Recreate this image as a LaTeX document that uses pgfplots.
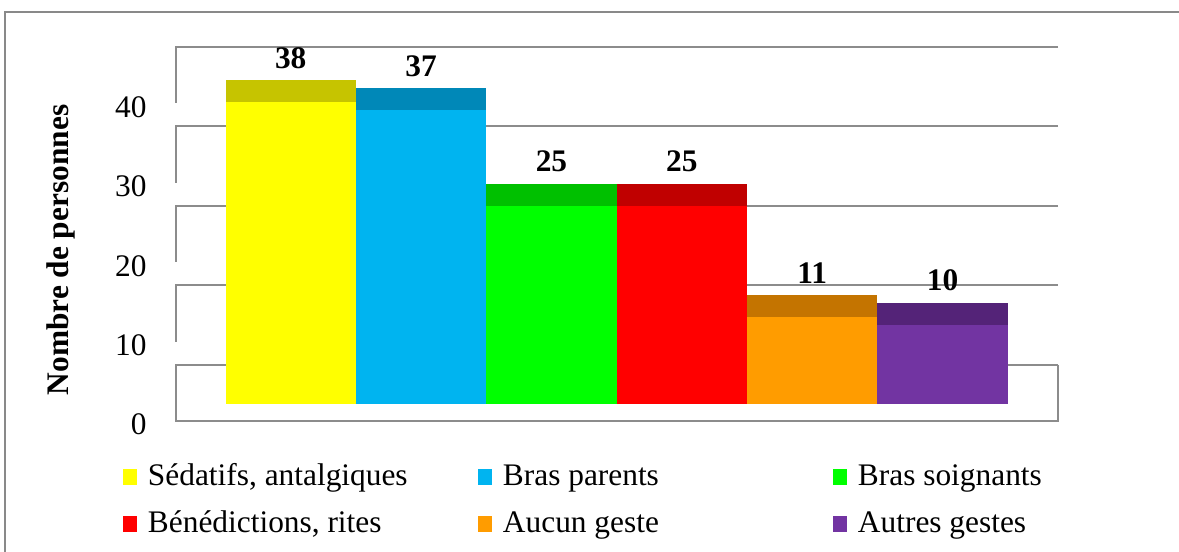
\documentclass[border=0pt]{standalone}
\usepackage{fontspec}
\setmainfont{Liberation Serif}
\usepackage{pgfplots}
\pgfplotsset{compat=1.18}
\definecolor{cYel}{HTML}{FFFF00}\definecolor{dYel}{HTML}{C6C400}
\definecolor{cBlu}{HTML}{00B4F0}\definecolor{dBlu}{HTML}{0088B8}
\definecolor{cGre}{HTML}{00FF00}\definecolor{dGre}{HTML}{00C000}
\definecolor{cRed}{HTML}{FF0000}\definecolor{dRed}{HTML}{C00000}
\definecolor{cOra}{HTML}{FF9C00}\definecolor{dOra}{HTML}{C47400}
\definecolor{cPur}{HTML}{7234A2}\definecolor{dPur}{HTML}{542378}
\definecolor{gridc}{RGB}{140,140,140}
\newcommand{\fs}{\fontsize{15.75}{18}\selectfont}
\begin{document}
\begin{tikzpicture}
\path[use as bounding box] (-88bp,-65.5bp) rectangle (501.5bp,210.5bp);
\draw[line width=1bp, color={rgb,255:red,137;green,137;blue,137}] (-85.5bp,-66bp) -- (-85.5bp,204.5bp) -- (502bp,204.5bp);
\begin{axis}[
  at={(0,0)}, anchor=south west,
  scale only axis, width=441bp, height=187.5bp,
  xmin=-0.88, xmax=5.885, ymin=-2.14, ymax=45.09,
  enlargelimits=false, clip=false,
  axis line style={draw=none}, major tick length=0pt, tick style={draw=none},
  xtick=\empty,
  ytick={-2.14,7.86,17.86,27.86,37.86}, yticklabels={0,10,20,30,40},
  yticklabel style={anchor=east, inner sep=0pt, xshift=-14.5bp, yshift=-1.8bp, font=\fs},
  /pgf/number format/assume math mode=true,
  ylabel={\bfseries Nombre de personnes},
  ylabel style={at={(axis description cs:-0.1304,0.456)}, anchor=center, font=\fs},
  legend columns=3,
  legend image code/.code={\fill[#1, draw=none] (0bp,-4.5bp) rectangle (7bp,3.5bp);},
  legend style={draw=none, fill=none, font=\fs, inner sep=0pt, outer sep=0pt,
    at={(axis description cs:-0.0601,-0.114)}, anchor=north west,
    nodes={inner sep=0pt}, row sep=11bp,
    /tikz/every odd column/.style={column sep=5.5bp}},
  legend cell align=left,
]
% back wall grid and side wall
\addplot[gridc, line width=1bp, forget plot] coordinates {(5.885,45) (-0.88,45) (-0.88,37.86)};
\addplot[gridc, line width=1bp, forget plot] coordinates {(5.885,35) (-0.88,35) (-0.88,27.86)};
\addplot[gridc, line width=1bp, forget plot] coordinates {(5.885,25) (-0.88,25) (-0.88,17.86)};
\addplot[gridc, line width=1bp, forget plot] coordinates {(5.885,15) (-0.88,15) (-0.88,7.86)};
\addplot[gridc, line width=1bp, forget plot] coordinates {(5.885,4.95) (-0.88,4.95) (-0.88,-2.14) (5.885,-2.14) (5.885,4.95)};
% top faces (value + depth), with value labels
\pgfplotsset{topface/.style={ybar, bar width=1, bar shift=0, draw=none, forget plot,
  y filter/.expression={y+2.77}, point meta=rawy,
  nodes near coords, nodes near coords style={anchor=south, inner sep=0pt, yshift=5.5bp, font=\fs\bfseries, text=black}}}
\addplot[topface, fill=dYel] coordinates {(0,38)};
\addplot[topface, fill=dBlu] coordinates {(1,37)};
\addplot[topface, fill=dGre] coordinates {(2,25)};
\addplot[topface, fill=dRed] coordinates {(3,25)};
\addplot[topface, fill=dOra] coordinates {(4,11)};
\addplot[topface, fill=dPur] coordinates {(5,10)};
% front faces
\pgfplotsset{frontface/.style={ybar, bar width=1, bar shift=0, draw=none}}
\addplot[frontface, fill=cYel] coordinates {(0,38)};
\addplot[frontface, fill=cBlu] coordinates {(1,37)};
\addplot[frontface, fill=cGre] coordinates {(2,25)};
\addplot[frontface, fill=cRed] coordinates {(3,25)};
\addplot[frontface, fill=cOra] coordinates {(4,11)};
\addplot[frontface, fill=cPur] coordinates {(5,10)};
\legend{\makebox[165bp][l]{Sédatifs, antalgiques},\makebox[165bp][l]{Bras parents},\makebox[165bp][l]{Bras soignants},\makebox[165bp][l]{Bénédictions, rites},\makebox[165bp][l]{Aucun geste},\makebox[165bp][l]{Autres gestes}}
\end{axis}
\end{tikzpicture}
\end{document}
